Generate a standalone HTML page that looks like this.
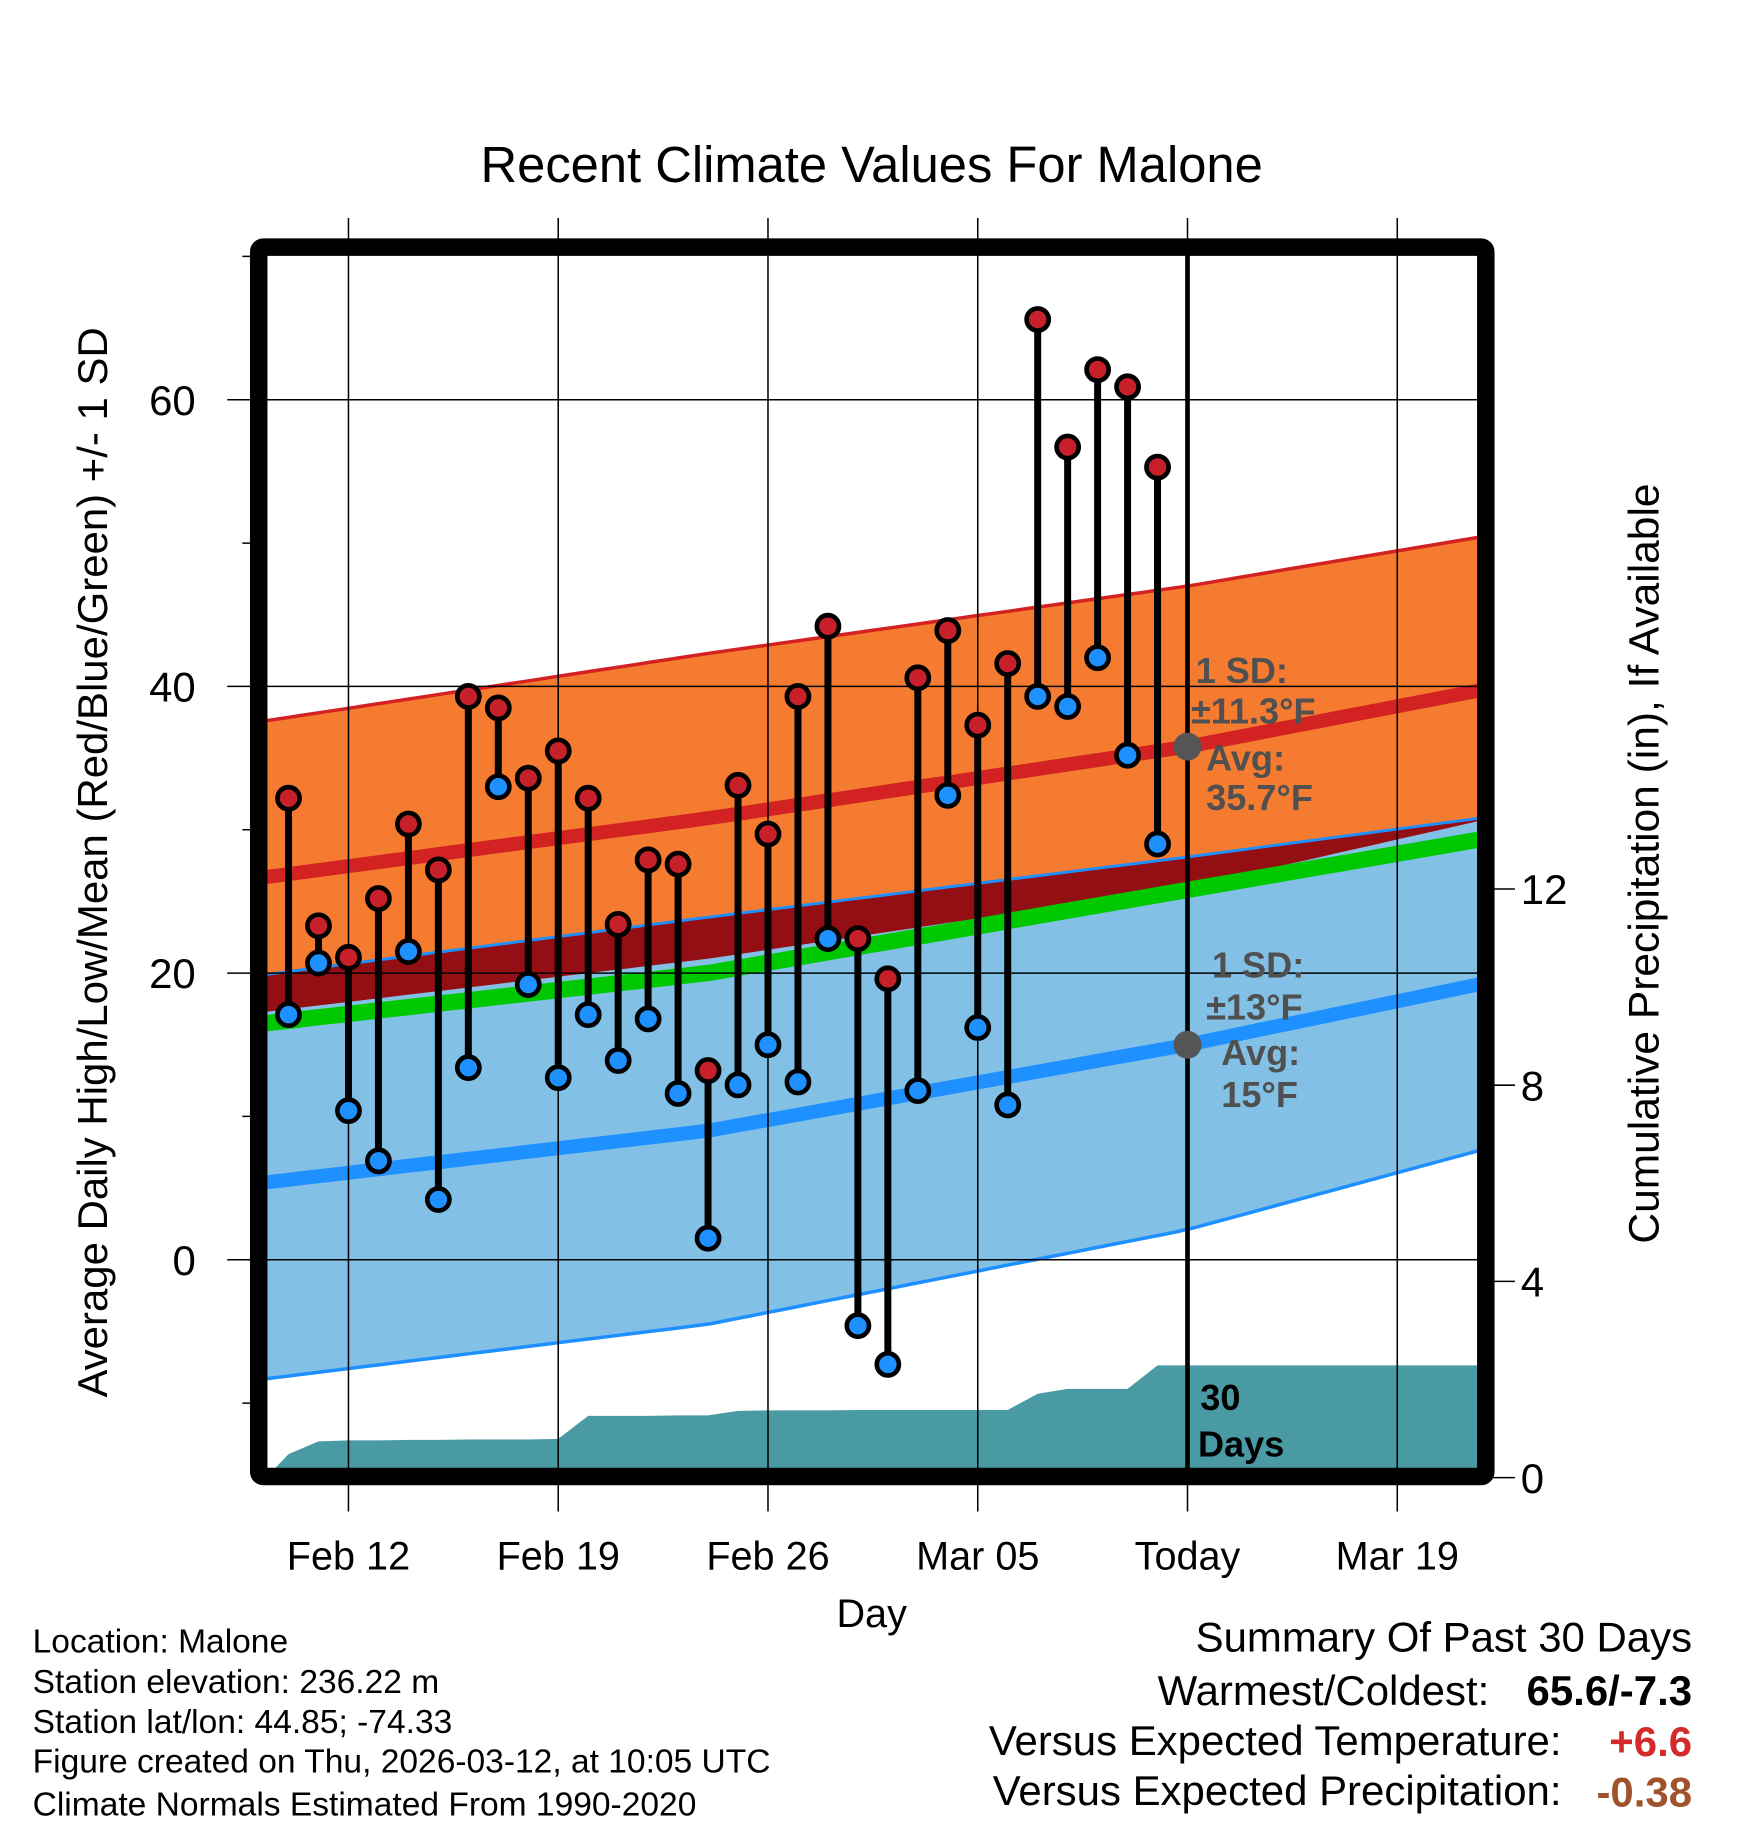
<!DOCTYPE html>
<html><head><meta charset="utf-8"><style>
html,body{margin:0;padding:0;background:#fff}
svg{display:block}
text{font-family:"Liberation Sans",sans-serif}
</style></head><body>
<svg id="chart" width="1748" height="1828" viewBox="0 0 1500 1568.6" xmlns="http://www.w3.org/2000/svg">
<text x="748" y="156" font-size="43.5" text-anchor="middle">Recent Climate Values For Malone</text>
<g id="bands"></g>
<g id="grid"></g>
<g id="series"></g>
<g id="annot"></g>
<rect x="222" y="212" width="1053" height="1055" fill="none" stroke="#000" stroke-width="15" rx="4"/>
<g id="axes"></g>
<text x="748" y="1396" font-size="34" text-anchor="middle">Day</text>
<text transform="translate(92,740) rotate(-90)" font-size="36" text-anchor="middle">Average Daily High/Low/Mean (Red/Blue/Green) +/- 1 SD</text>
<text transform="translate(1423,741) rotate(-90)" font-size="36.5" text-anchor="middle">Cumulative Precipitation (in), If Available</text>
<g font-size="28.8">
<text x="28" y="1418">Location: Malone</text>
<text x="28" y="1453">Station elevation: 236.22 m</text>
<text x="28" y="1487">Station lat/lon: 44.85; -74.33</text>
<text x="28" y="1521">Figure created on Thu, 2026-03-12, at 10:05 UTC</text>
<text x="28" y="1558">Climate Normals Estimated From 1990-2020</text>
</g>
<g font-size="36" text-anchor="end">
<text x="1452" y="1417">Summary Of Past 30 Days</text>
<text x="1278" y="1463">Warmest/Coldest:</text>
<text x="1452" y="1463" font-weight="bold">65.6/-7.3</text>
<text x="1340" y="1506">Versus Expected Temperature:</text>
<text x="1452" y="1507" font-weight="bold" fill="#d42a2a">+6.6</text>
<text x="1340" y="1549">Versus Expected Precipitation:</text>
<text x="1452" y="1550" font-weight="bold" fill="#a0522d">-0.38</text>
</g>
</svg>
<script>
// data
const highs=[32.2,23.3,21.1,25.2,30.4,27.2,39.3,38.5,33.6,35.5,32.2,23.4,27.9,27.6,13.2,33.1,29.7,39.3,44.2,22.4,19.6,40.6,43.9,37.3,41.6,65.6,56.7,62.1,60.9,55.3];
const lows=[17.1,20.7,10.4,6.9,21.5,4.2,13.4,33.0,19.2,12.7,17.1,13.9,16.8,11.6,1.5,12.2,15.0,12.4,22.4,-4.6,-7.3,11.8,32.4,16.2,10.8,39.3,38.6,42.0,35.2,29.0];
const precip=[0.48,0.74,0.76,0.76,0.77,0.77,0.78,0.78,0.78,0.79,1.26,1.26,1.26,1.27,1.27,1.36,1.37,1.37,1.37,1.38,1.38,1.38,1.38,1.38,1.38,1.71,1.81,1.81,1.81,2.29];
const normDays=[-0.75,14,30,39.7];
const hiUp=[37.6,42.3,47.0,50.4];
const hiMean=[26.7,30.8,35.8,39.7];
const hiLow=[17.3,21.0,26.0,30.6];
const loUp=[19.9,23.9,28.1,30.8];
const avgMean=[16.5,20.0,25.8,29.3];
const loMean=[5.4,9.0,15.0,19.2];
const loLow=[-8.3,-4.5,2.1,7.6];
const yTicks=[0,20,40,60];
const yMinor=[-10,10,30,50,70];
const pTicks=[0,4,8,12];
const xTickDays=[2,9,16,23,30,37];
const xTickLabels=["Feb 12","Feb 19","Feb 26","Mar 05","Today","Mar 19"];

const NS="http://www.w3.org/2000/svg";
const X=d=>247.6+d*(180/7);
const Y=v=>1081-v*12.3;
const P=p=>1268-p*42.1;
const L=229,R=1268,T=219,B=1260;
function mk(tag,attrs,parent){const e=document.createElementNS(NS,tag);for(const k in attrs)e.setAttribute(k,attrs[k]);document.getElementById(parent).appendChild(e);return e;}
function curve(arr){
  const pts=[];
  for(let i=0;i<=60;i++){const d=normDays[0]+(normDays[3]-normDays[0])*i/60;
    let k=0;while(k<normDays.length-2&&d>normDays[k+1])k++;
    const t=(d-normDays[k])/(normDays[k+1]-normDays[k]);
    pts.push([X(d),Y(arr[k]+(arr[k+1]-arr[k])*t)]);}
  return pts;}
const ps=p=>p.map(q=>q[0].toFixed(1)+","+q[1].toFixed(1)).join(" ");
function band(top,bot,fill,name){const e=mk("polygon",{points:ps(curve(top).concat(curve(bot).reverse())),fill:fill},"bands");

}
function line(arr,col,w,name){const e=mk("polyline",{points:ps(curve(arr)),fill:"none",stroke:col,"stroke-width":w},"bands");

}
band(hiUp,hiLow,"#f47b2f","high-sd-band");
band(loUp,loLow,"#82c0e6","low-sd-band");
band(loUp,hiLow,"#940f14","overlap-band");
line(hiUp,"#d42222",3,"high-upper-line");
line(loUp,"#1e8fff",2.5,"low-upper-line");
line(loLow,"#1e8fff",3,"low-lower-line");
line(avgMean,"#00c800",14,"mean-line");
line(hiMean,"#d22222",12,"high-mean-line");
line(loMean,"#1e90ff",12,"low-mean-line");
const pp=[[X(-0.75),P(0)]];
precip.forEach((v,i)=>pp.push([X(i),P(v)]));
pp.push([R,P(precip[precip.length-1])],[R,B],[L,B]);
const pe=mk("polygon",{points:ps(pp),fill:"#4a9aa4"},"bands");


yTicks.forEach(v=>{const g=mk("line",{x1:195,x2:1282,y1:Y(v),y2:Y(v),stroke:"#000","stroke-width":1.3},"grid");


const t=mk("text",{x:168,y:Y(v)+13,"font-size":36,"text-anchor":"end"},"axes");t.textContent=v;

});
yMinor.forEach(v=>{const g=mk("line",{x1:208,x2:222,y1:Y(v),y2:Y(v),stroke:"#000","stroke-width":1.3},"axes");

});
pTicks.forEach(v=>{const g=mk("line",{x1:1275,x2:1300,y1:P(v),y2:P(v),stroke:"#000","stroke-width":1.3},"axes");


const t=mk("text",{x:1305,y:P(v)+13,"font-size":36},"axes");t.textContent=v;

});
xTickDays.forEach((d,i)=>{const g=mk("line",{x1:X(d),x2:X(d),y1:187,y2:1297,stroke:"#000","stroke-width":1.3},"grid");


const t=mk("text",{x:X(d),y:1347,"font-size":34,"text-anchor":"middle"},"axes");t.textContent=xTickLabels[i];

});
const tl=mk("line",{x1:X(30),x2:X(30),y1:T,y2:B,stroke:"#000","stroke-width":4},"series");


highs.forEach((h,i)=>{const x=X(i);
const s=mk("line",{x1:x,x2:x,y1:Y(h),y2:Y(lows[i]),stroke:"#000","stroke-width":6},"series");


const c1=mk("circle",{cx:x,cy:Y(h),r:9.5,fill:"#c8202a",stroke:"#000","stroke-width":4},"series");


const c2=mk("circle",{cx:x,cy:Y(lows[i]),r:9.5,fill:"#1e90ff",stroke:"#000","stroke-width":4},"series");

});
const d1=mk("circle",{cx:X(30),cy:Y(hiMean[2]),r:12,fill:"#555"},"annot");


const d2=mk("circle",{cx:X(30),cy:Y(loMean[2]),r:12,fill:"#555"},"annot");


const ann=[[1026,586,"1 SD:"],[1022,621,"±11.3°F"],[1035,661,"Avg:"],[1035,695,"35.7°F"],[1040,839,"1 SD:"],[1035,875,"±13°F"],[1048,914,"Avg:"],[1048,950,"15°F"],[1030,1210,"30"],[1028,1250,"Days"]];
ann.forEach((a,i)=>{const t=mk("text",{x:a[0],y:a[1],"font-size":31,"font-weight":"bold",fill:i>=8?"#000":"#505050"},"annot");t.textContent=a[2];

});
</script>
</body></html>
